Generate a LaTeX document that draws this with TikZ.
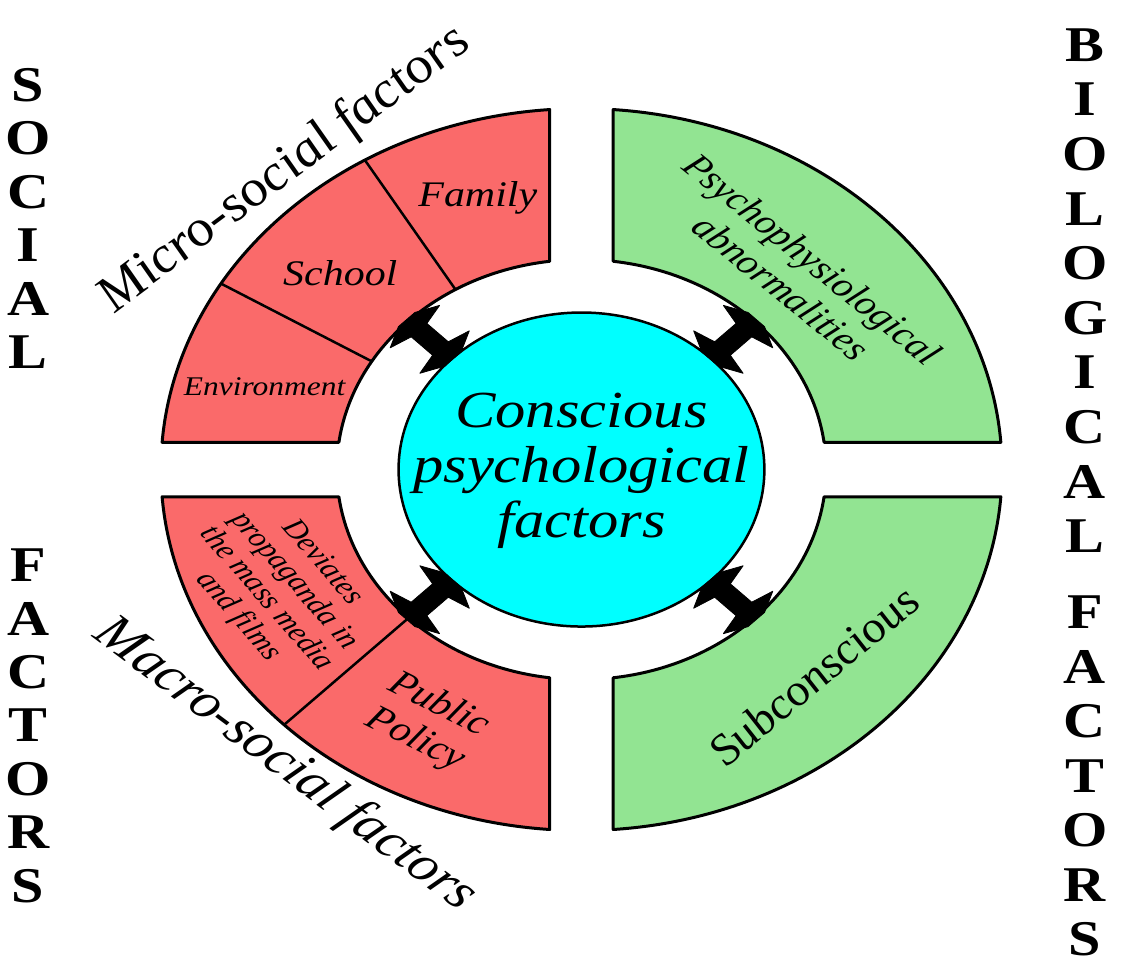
\documentclass[tikz,border=0pt]{standalone}
\usepackage{fontspec}
\setmainfont{Liberation Serif}
\usetikzlibrary{shapes.geometric}
\definecolor{socred}{RGB}{250,106,106}
\definecolor{biogreen}{RGB}{146,228,146}
\definecolor{corecyan}{RGB}{0,255,255}
\def\Ro{361}
\def\Ri{210}
\pgfmathsetmacro\ao{asin(27.25/361)}
\pgfmathsetmacro\ai{asin(27.25/210)}
\newcommand\ringquad[2]{%
  \path[band, fill=#2] ({#1+90-\ao}:\Ro) arc[start angle={#1+90-\ao}, end angle={#1+\ao}, radius=\Ro]
    -- ({#1+\ai}:\Ri) arc[start angle={#1+\ai}, end angle={#1+90-\ai}, radius=\Ri] -- cycle;}
\tikzset{
  band/.style={draw=black, line width=3pt, line join=round},
  divider/.style={draw=black, line width=2.5pt},
  lbl/.style={align=center, inner sep=0pt},
  arrowshape/.style={fill=black, draw=black, line width=0.8pt, line join=round},
  side/.style={font=\bfseries\fontsize{50}{54}\selectfont, inner sep=0pt},
}
\begin{document}
\begin{tikzpicture}[x=1pt, y=1pt, xscale=1.165, transform shape]
\useasboundingbox (-499.1,-505.5) rectangle (464.8,469.5);
% bands
\ringquad{90}{socred}
\ringquad{180}{socred}
\ringquad{0}{biogreen}
\ringquad{270}{biogreen}
\draw[divider] (121:\Ri) -- (121:\Ro);
\draw[divider] (149:\Ri) -- (149:\Ro);
\draw[divider] (225:\Ri) -- (225:\Ro);
% core
\node[circle, fill=corecyan, draw=black, line width=2.5pt, minimum size=314pt, inner sep=0pt] (core) at (0,0) {};
\node[lbl, font=\itshape\fontsize{52}{55}\selectfont] (coretext) at (0,-1) {Conscious\\psychological\\factors};
% ring anchor points and double arrows core <-> ring
\foreach \a in {45,135,225,315}{
  \coordinate (r\a) at (\a:\Ri);
  \path (core.\a) -- (r\a) coordinate[pos=0.5] (m\a);
  \begin{scope}[shift={(m\a)}, rotate=\a]
    \path[arrowshape] (-13,9.5) -- (13,9.5) -- (18,30) -- (28,10) -- (28,-10) -- (18,-30) -- (13,-9.5)
      -- (-13,-9.5) -- (-18,-30) -- (-28,-10) -- (-28,10) -- (-18,30) -- cycle;
  \end{scope}
}
% cell labels
\node[lbl, font=\itshape\fontsize{36}{40}\selectfont] (family) at (-89,272) {Family};
\node[lbl, font=\itshape\fontsize{36}{40}\selectfont] (school) at (-207,196.5) {School};
\node[lbl, font=\itshape\fontsize{27}{30}\selectfont] (env) at (-272,82.5) {Environment};
\node[lbl, font=\itshape\fontsize{28}{30}\selectfont, rotate=-53] (deviates) at (-259,-120.5) {Deviates\\propaganda in\\the mass media\\and films};
\node[lbl, font=\itshape\fontsize{36}{40}\selectfont, rotate=-30] (policy) at (-132.6,-253.5) {Public\\Policy};
\node[lbl, font=\itshape\fontsize{35}{39}\selectfont, rotate=-43.3] (psycho) at (185,196.5) {Psychophysiological\\abnormalities};
\node[lbl, font=\itshape\fontsize{43}{46}\selectfont, rotate=44] (subc) at (199,-206) {Subconscious};
\node[lbl, font=\itshape\fontsize{50}{54}\selectfont, rotate=41] (micro) at (-254.5,299.5) {Micro-social factors};
\node[lbl, font=\itshape\fontsize{50}{54}\selectfont, rotate=-41] (macro) at (-254.5,-295.5) {Macro-social factors};
% side columns
\foreach \ch/\yy [count=\i] in {S/85,O/138.5,C/192,I/245.5,A/299,L/352.5,F/565,A/618.5,C/672,T/725.5,O/779,R/832.5,S/886}
  \node[side] (soc\i) at (-475,469.5-\yy) {\ch};
\foreach \ch/\yy [count=\i] in {B/45,I/99.6,O/154.2,L/208.8,O/263.4,G/318,I/372.6,C/427.2,A/481.8,L/536.4,F/612,A/666.6,C/721.2,T/775.8,O/830.4,R/885,S/939.6}
  \node[side] (bio\i) at (432,469.5-\yy) {\ch};
\end{tikzpicture}
\end{document}
